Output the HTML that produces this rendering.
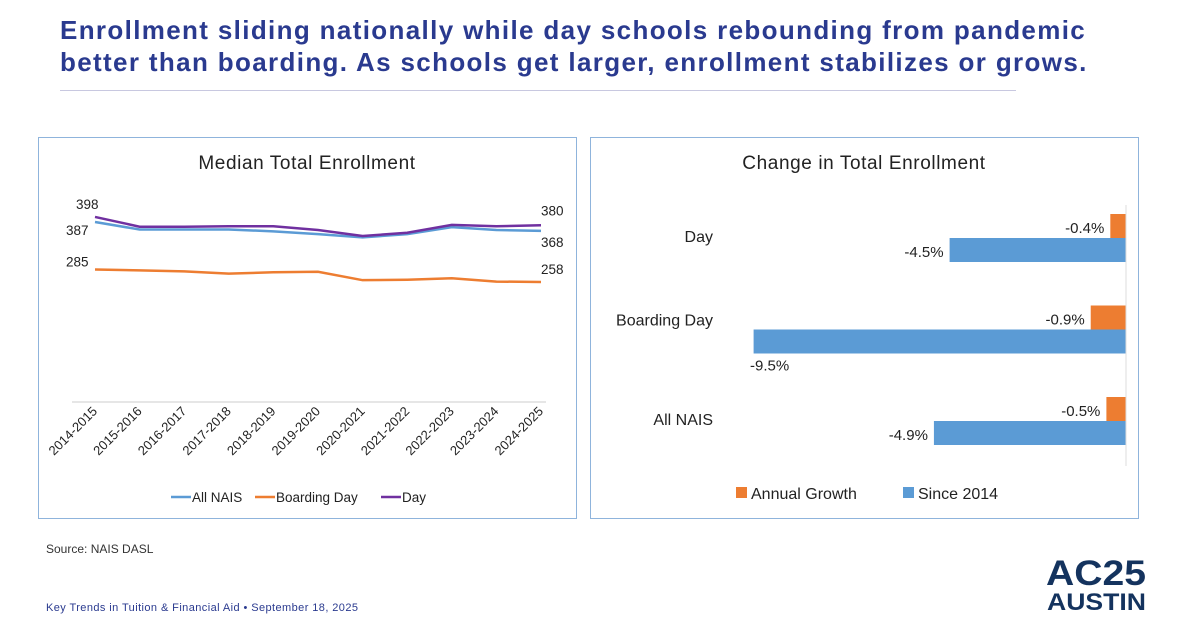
<!DOCTYPE html>
<html><head><meta charset="utf-8"><style>
body{margin:0;width:1200px;height:627px;background:#fff;font-family:"Liberation Sans",sans-serif;overflow:hidden;position:relative}
.t{position:absolute;left:60px;top:14px;font-size:26px;font-weight:bold;color:#2a3a8f;line-height:32px;letter-spacing:1.35px;white-space:nowrap}
</style></head><body>
<div class="t">Enrollment sliding nationally while day schools rebounding from pandemic<br>better than boarding. As schools get larger, enrollment stabilizes or grows.</div>
<div style="position:absolute;left:60px;top:90px;width:956px;height:1px;background:#c8c8e0"></div>
<svg width="1200" height="627" style="position:absolute;left:0;top:0" font-family="Liberation Sans, sans-serif">
<rect x="38.5" y="137.5" width="538" height="381" fill="none" stroke="#8fb4dc"/>
<rect x="590.5" y="137.5" width="548" height="381" fill="none" stroke="#8fb4dc"/>
<text x="307" y="169" font-size="19" text-anchor="middle" fill="#222" letter-spacing="0.6">Median Total Enrollment</text>
<text x="864" y="169" font-size="19" text-anchor="middle" fill="#222" letter-spacing="0.6">Change in Total Enrollment</text>
<line x1="72" y1="402" x2="546" y2="402" stroke="#ddd" stroke-width="1.5"/>
<g id="lc"></g><g id="rc"></g>
<line x1="1126" y1="205" x2="1126" y2="466" stroke="#ddd"/>
<text x="46" y="553" font-size="12" fill="#333">Source:  NAIS DASL</text>
<text x="46" y="611" font-size="11" fill="#2a3a8f" textLength="312">Key Trends in Tuition &amp; Financial Aid • September 18, 2025</text>
<text x="1046" y="585" font-size="35" font-weight="bold" fill="#14335e" textLength="100" lengthAdjust="spacingAndGlyphs">AC25</text>
<text x="1047" y="610" font-size="24" font-weight="bold" fill="#14335e" textLength="99" lengthAdjust="spacingAndGlyphs">AUSTIN</text>
</svg>
<script>
const years=["2014-2015","2015-2016","2016-2017","2017-2018","2018-2019","2019-2020","2020-2021","2021-2022","2022-2023","2023-2024","2024-2025"];
const allNais=[387,371,371,371,367,361,354,361,376,370,368];
const boarding=[285,283,281,276,279,280,262,263,266,259,258];
const day=[398,377,377,378,378,370,357,364,381,378,380];
const cats=["Day","Boarding Day","All NAIS"];
const annual=[-0.4,-0.9,-0.5];
const since=[-4.5,-9.5,-4.9];
const NS="http://www.w3.org/2000/svg";
function mk(p,t,a){const e=document.createElementNS(NS,t);for(const k in a)e.setAttribute(k,a[k]);p.appendChild(e);return e;}
const lc=document.getElementById('lc'),rc=document.getElementById('rc');
const xs=i=>95+i*44.6, ys=v=>402-v*0.465;
years.forEach((y,i)=>{const t=mk(lc,'text',{x:xs(i)+3,y:412,'font-size':13,'text-anchor':'end',fill:'#222',transform:`rotate(-45 ${xs(i)+3} 412)`});t.textContent=y;

});
[[allNais,'#5b9bd5','all-nais-line'],[boarding,'#ed7d31','boarding-day-line'],[day,'#7030a0','day-line']].forEach(([d,c,n])=>{
const p=mk(lc,'polyline',{points:d.map((v,i)=>xs(i)+','+ys(v)).join(' '),fill:'none',stroke:c,'stroke-width':2.5});

});
function lab(x,y,s,n){const t=mk(lc,'text',{x:x,y:y,'font-size':13.5,fill:'#222'});t.textContent=s;

}
lab(76,ys(day[0])-8,day[0],'day-start-label');lab(66,ys(allNais[0])+13,allNais[0],'all-start-label');
lab(66,ys(boarding[0])-3,boarding[0],'boarding-start-label');
lab(541,ys(day[10])-10,day[10],'day-end-label');lab(541,ys(allNais[10])+16,allNais[10],'all-end-label');lab(541,ys(boarding[10])-8,boarding[10],'boarding-end-label');
[['#5b9bd5','All NAIS',171],['#ed7d31','Boarding Day',255],['#7030a0','Day',381]].forEach(([c,s,x])=>{
const l=mk(lc,'line',{x1:x,y1:497,x2:x+20,y2:497,stroke:c,'stroke-width':2.5});


const t=mk(lc,'text',{x:x+21,y:502,'font-size':13.5,fill:'#222'});t.textContent=s;

});
const x0=1126,k=39.2,bh=24,top0=214,gap=91.5;
cats.forEach((c,i)=>{const y=top0+i*gap;
const t=mk(rc,'text',{x:713,y:y+(i==1?20:28),'font-size':16,'text-anchor':'end',fill:'#222'});t.textContent=c;


const a=mk(rc,'rect',{x:x0+annual[i]*k,y:y,width:-annual[i]*k,height:bh,fill:'#ed7d31'});


const b=mk(rc,'rect',{x:x0+since[i]*k,y:y+bh,width:-since[i]*k,height:bh,fill:'#5b9bd5'});


const ta=mk(rc,'text',{x:x0+annual[i]*k-6,y:y+19,'font-size':15,'text-anchor':'end',fill:'#222'});ta.textContent=annual[i].toFixed(1)+'%';


const tb=i==1?mk(rc,'text',{x:x0+since[i]*k+16,y:y+bh*2+17,'font-size':15,'text-anchor':'middle',fill:'#222'}):mk(rc,'text',{x:x0+since[i]*k-6,y:y+bh+19,'font-size':15,'text-anchor':'end',fill:'#222'});
tb.textContent=since[i].toFixed(1)+'%';

});
[['#ed7d31','Annual Growth',736],['#5b9bd5','Since 2014',903]].forEach(([c,s,x])=>{
const r=mk(rc,'rect',{x:x,y:487,width:11,height:11,fill:c});


const t=mk(rc,'text',{x:x+15,y:499,'font-size':16,fill:'#222'});t.textContent=s;

});
</script>
</body></html>
